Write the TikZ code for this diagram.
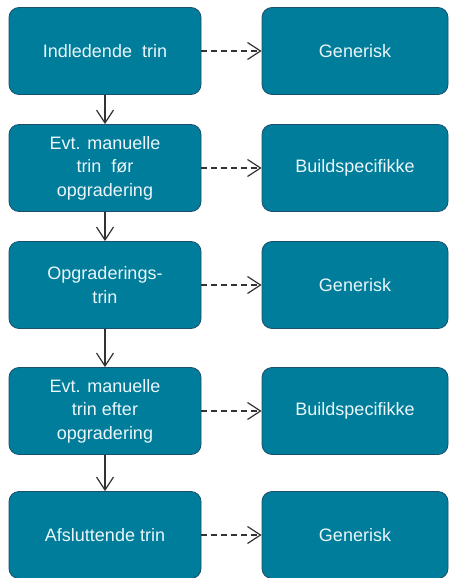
\documentclass[tikz,border=0pt]{standalone}
\usepackage{fontspec}
\setmainfont{Liberation Sans}
\usetikzlibrary{arrows.meta}
\definecolor{trinfyld}{HTML}{007D9A}
\definecolor{trinkant}{HTML}{1B4F6E}
\definecolor{trintekst}{HTML}{EAF6FA}
\definecolor{pil}{HTML}{333333}
\begin{document}
\begin{tikzpicture}[x=1pt, y=-1pt,
    trin/.style={rectangle, rounded corners=10pt, draw=trinkant, line width=0.8pt,
      fill=trinfyld, text=trintekst, align=center, inner sep=0pt,
      minimum height=87pt, font=\fontsize{18}{23.5}\selectfont},
    venstre/.style={trin, minimum width=192pt},
    hoejre/.style={trin, minimum width=186pt},
    pilspids/.style={-{Straight Barb[length=13pt, width=17pt, line width=1.2pt]}},
    naeste/.style={pilspids, draw=pil, line width=1.2pt},
    type/.style={pilspids, draw=pil, line width=1.3pt, dash pattern=on 6pt off 4pt}]
    \useasboundingbox (0,0) rectangle (449,578);

    % trin
    \node[venstre] (t1) at (105,51) {Indledende\ \ trin};
    \node[venstre] (t2) at (105,168) {Evt. manuelle\\trin\ \ før\\opgradering};
    \node[venstre] (t3) at (105,285) {Opgraderings-\\trin};
    \node[venstre] (t4) at (105,411) {Evt. manuelle\\trin efter\\opgradering};
    \node[venstre] (t5) at (105,535) {Afsluttende trin};

    % typer
    \node[hoejre] (g1) at (355,51) {Generisk};
    \node[hoejre] (g2) at (355,168) {Buildspecifikke};
    \node[hoejre] (g3) at (355,285) {Generisk};
    \node[hoejre] (g4) at (355,411) {Buildspecifikke};
    \node[hoejre] (g5) at (355,535) {Generisk};

    % forbindelser
    \foreach \i/\j in {1/2, 2/3, 3/4, 4/5}
      \draw[naeste] (t\i) -- (t\j);
    \foreach \i in {1,...,5}
      \draw[type] (t\i) -- (g\i);
  \end{tikzpicture}
\end{document}
